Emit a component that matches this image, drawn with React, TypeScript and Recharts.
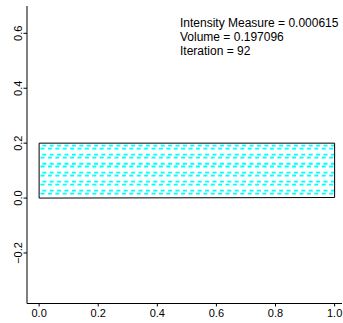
import React from 'react';
import {
  ComposedChart,
  Line,
  XAxis,
  YAxis,
  Customized,
} from 'recharts';

// axis ticks
const xTicks = [0, 0.2, 0.4, 0.6, 0.8, 1.0];
const yTicks = [-0.2, 0, 0.2, 0.4, 0.6];

// outline of the shape (closed polygon)
const outlineX = [0, 1, 1, 0, 0];
const outlineY = [0, 0.002, 0.2, 0.2, 0];

// cyan hatching rows
const rowX = [0, 1];
const rowY = [0.191, 0.18, 0.158, 0.147, 0.125, 0.115, 0.093, 0.082, 0.06, 0.049, 0.027, 0.016];

// annotation text
const infoLines = ['Intensity Measure = 0.000615', 'Volume = 0.197096', 'Iteration = 92'];

const outlineData = outlineX.map((x, i) => ({ x, y: outlineY[i] }));
const rows = rowY.map((y) => rowX.map((x) => ({ x, y })));

const FONT = '"Liberation Sans", Arial, Helvetica, sans-serif';

const fmt = (v: number) => (v < 0 ? '\u2212' + Math.abs(v).toFixed(1) : v.toFixed(1));

const YTick = (props: any) => {
  const { x, y, payload } = props;
  return (
    <text
      x={x}
      y={y}
      transform={`rotate(-90, ${x}, ${y})`}
      textAnchor="middle"
      fontSize={11}
      fontFamily={FONT}
      fill="#000"
    >
      {fmt(payload.value)}
    </text>
  );
};

const XTick = (props: any) => {
  const { x, y, payload } = props;
  return (
    <text x={x} y={y + 10} textAnchor="middle" fontSize={11} fontFamily={FONT} fill="#000">
      {fmt(payload.value)}
    </text>
  );
};

const Info = () => (
  <g>
    {infoLines.map((t, i) => (
      <text key={t} x={180} y={27 + i * 14} fontSize={12} fontFamily={FONT} fill="#000">
        {t}
      </text>
    ))}
  </g>
);

export default function App() {
  return (
    <div style={{ position: 'absolute', left: 0, top: 0, width: 343, height: 323, overflow: 'hidden', background: '#fff' }}>
      <ComposedChart width={343} height={323} margin={{ top: 6, right: 1, left: 0, bottom: 0 }}>
        <XAxis
          xAxisId="b"
          type="number"
          dataKey="x"
          domain={[-0.041, 1.025]}
          allowDataOverflow
          ticks={xTicks}
          height={19.5}
          tickSize={3}
          tickMargin={0}
          tick={<XTick />}
          stroke="#000"
          interval={0}
        />
        <XAxis
          xAxisId="t"
          orientation="top"
          type="number"
          domain={[-0.041, 1.025]}
          allowDataOverflow
          height={0}
          tick={false}
          tickLine={false}
          stroke="#000"
        />
        <YAxis
          yAxisId="l"
          type="number"
          dataKey="y"
          domain={[-0.384, 0.6995]}
          allowDataOverflow
          ticks={yTicks}
          width={27}
          tickSize={3.5}
          tickMargin={1.5}
          tick={<YTick />}
          stroke="#000"
          interval={0}
        />
        <YAxis
          yAxisId="r"
          orientation="right"
          type="number"
          domain={[-0.384, 0.6995]}
          allowDataOverflow
          width={0}
          tick={false}
          tickLine={false}
          stroke="#000"
        />
        {rows.map((d, i) => (
          <Line
            key={`row-${i}`}
            xAxisId="b"
            yAxisId="l"
            data={d}
            dataKey="y"
            type="linear"
            stroke="#00ffff"
            strokeWidth={1.8}
            strokeDasharray="4 3.4"
            strokeDashoffset={i % 2 === 0 ? -3.2 : -1.4}
            dot={false}
            activeDot={false}
            isAnimationActive={false}
          />
        ))}
        <Line
          xAxisId="b"
          yAxisId="l"
          data={outlineData}
          dataKey="y"
          type="linear"
          stroke="#000"
          strokeWidth={1}
          dot={false}
          activeDot={false}
          isAnimationActive={false}
        />
        <Customized component={Info} />
      </ComposedChart>
    </div>
  );
}
